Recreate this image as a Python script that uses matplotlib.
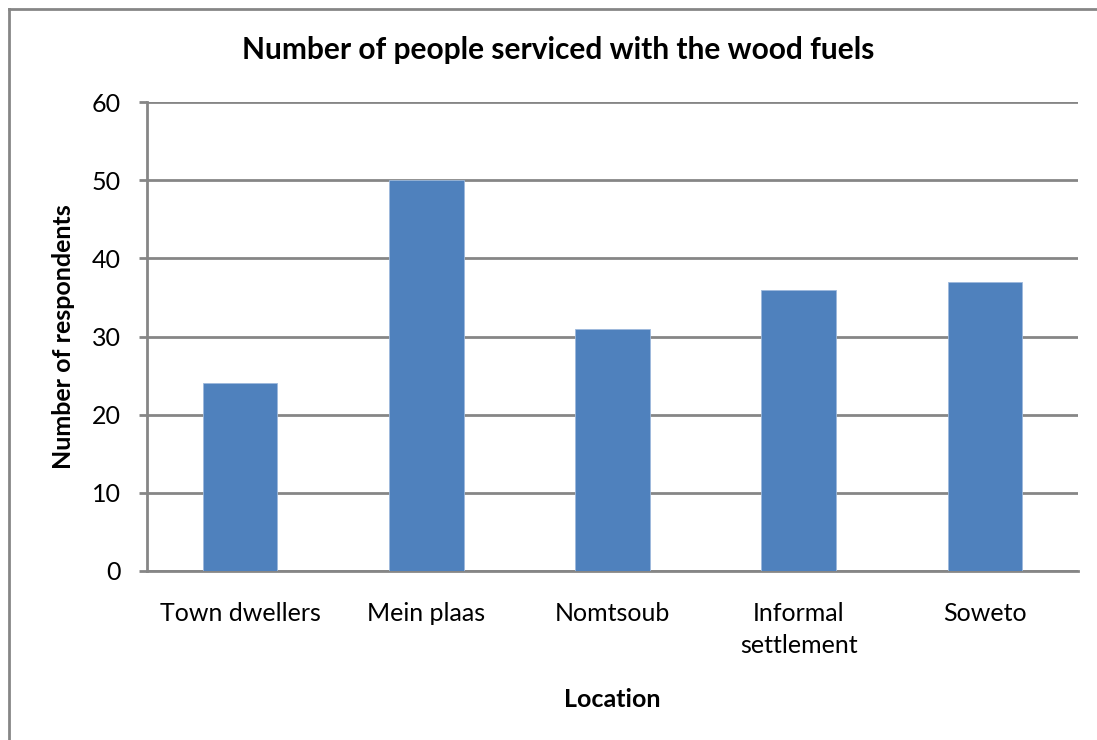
import matplotlib
matplotlib.use("Agg")
import matplotlib.pyplot as plt
from matplotlib.lines import Line2D

# Respondents per location
locations = ["Town dwellers", "Mein plaas", "Nomtsoub", "Informal\nsettlement", "Soweto"]
respondents = [24, 50, 31, 36, 37]
y_ticks = [0, 10, 20, 30, 40, 50, 60]

plt.rcParams['font.family'] = ['Lato', 'DejaVu Sans']

bar_color = "#4F81BD"
axis_gray = "#868686"

fig = plt.figure(figsize=(10.97, 7.40), dpi=100)
ax = fig.add_axes([147 / 1097, 1 - 571 / 740, (1078 - 147) / 1097, (571 - 102) / 740])

x = list(range(len(locations)))
ax.bar(x, respondents, width=0.4, color=bar_color, edgecolor="#9DB9DC", linewidth=0.6, zorder=3)

ax.set_xlim(-0.5, len(locations) - 0.5)
ax.set_ylim(0, 60)
ax.set_yticks(y_ticks)
ax.set_xticks(x)
ax.set_xticklabels(locations, fontsize=18, linespacing=1.5)
ax.tick_params(axis="y", labelsize=18, length=6, width=2, color=axis_gray, pad=13)
ax.tick_params(axis="x", length=0, pad=22)

ax.grid(axis="y", color=axis_gray, linewidth=2, zorder=0)
for side in ["top", "right"]:
    ax.spines[side].set_visible(False)
for side in ["left", "bottom"]:
    ax.spines[side].set_color(axis_gray)
    ax.spines[side].set_linewidth(2)

ax.set_ylabel("Number of respondents", fontsize=18, fontweight="bold", labelpad=12)
ax.set_xlabel("Location", fontsize=18, fontweight="bold", labelpad=22)

fig.text(558 / 1097, 1 - 50 / 740, "Number of people serviced with the wood fuels",
         fontsize=21.5, fontweight="bold", ha="center", va="center")

# chart border: only the left and top edges fall inside the canvas
bx, by = 9 / 1097, 1 - 9 / 740
fig.add_artist(Line2D([bx, bx], [0, by], transform=fig.transFigure,
                      color=axis_gray, linewidth=2, solid_capstyle="projecting"))
fig.add_artist(Line2D([bx, 1], [by, by], transform=fig.transFigure,
                      color=axis_gray, linewidth=2, solid_capstyle="projecting"))

fig.savefig("out.png", dpi=100, facecolor="white")
